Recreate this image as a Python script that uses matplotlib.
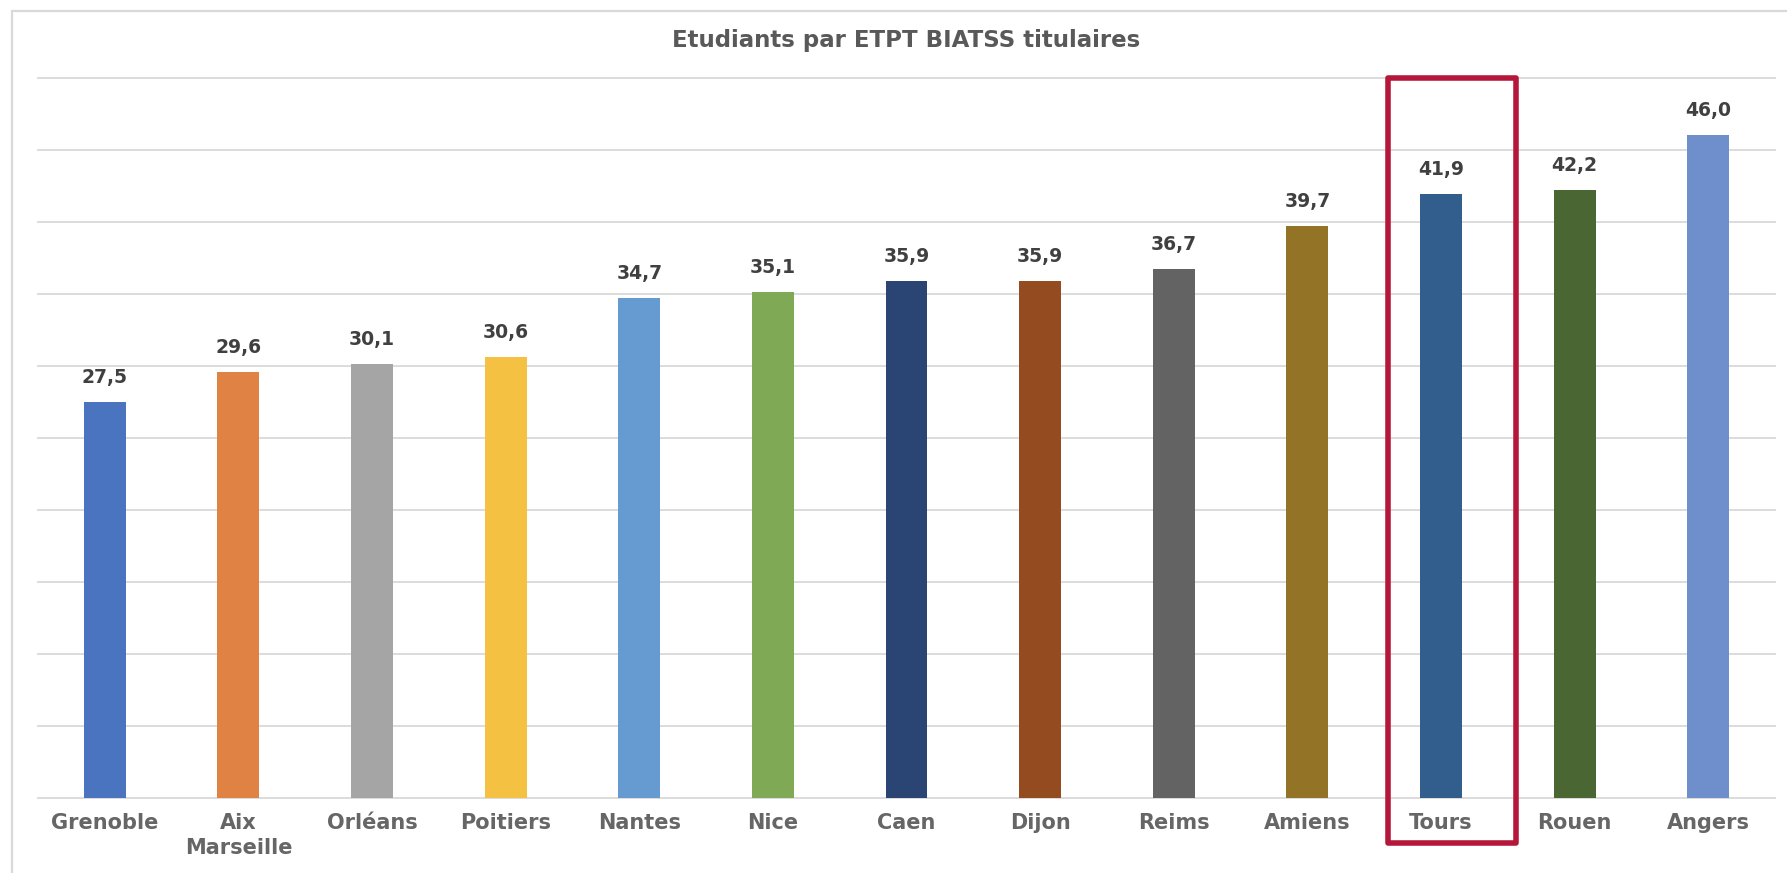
import matplotlib
matplotlib.use("Agg")
import matplotlib.pyplot as plt
from matplotlib.patches import Rectangle

categories = ["Grenoble", "Aix\nMarseille", "Orléans", "Poitiers", "Nantes", "Nice",
              "Caen", "Dijon", "Reims", "Amiens", "Tours", "Rouen", "Angers"]
values = [27.5, 29.6, 30.1, 30.6, 34.7, 35.1, 35.9, 35.9, 36.7, 39.7, 41.9, 42.2, 46.0]
value_labels = ["27,5", "29,6", "30,1", "30,6", "34,7", "35,1", "35,9", "35,9",
                "36,7", "39,7", "41,9", "42,2", "46,0"]
colors = ["#4a74c0", "#e08244", "#a5a5a5", "#f5c142", "#659bd0", "#7fa955",
          "#2a4574", "#954b20", "#636363", "#937326", "#325e8d", "#4a6632", "#6e8fcc"]
title = "Etudiants par ETPT BIATSS titulaires"
highlight = "Tours"

W, H = 1787, 873
fig = plt.figure(figsize=(W / 100, H / 100), dpi=100)
fig.patch.set_facecolor("white")

# outer chart frame
fig.patches.append(Rectangle((11.7 / W, -0.05), 1.1, 1 - 11.5 / H + 0.05,
                             transform=fig.transFigure, fill=False,
                             edgecolor="#d9d9d9", linewidth=1.6, zorder=0))

ax = fig.add_axes([38 / W, 1 - 798 / H, (1775 - 38) / W, (798 - 77.7) / H])
x = range(len(categories))
bars = ax.bar(x, values, width=0.314, color=colors, zorder=3)

ax.set_xlim(-0.5, len(categories) - 0.5)
ax.set_ylim(0, 50)
ax.set_yticks(range(0, 51, 5))
ax.yaxis.grid(True, color="#d9d9d9", linewidth=1.3, zorder=0)
ax.set_axisbelow(True)
for s in ax.spines.values():
    s.set_visible(False)
ax.tick_params(axis="y", length=0, labelleft=False)
ax.tick_params(axis="x", length=0, pad=11)
ax.set_xticks(list(x))
ax.set_xticklabels(categories, fontsize=15, fontweight="bold", color="#666666",
                   va="top", linespacing=1.3)
for gl in ax.get_ygridlines():
    gl.set_clip_on(False)

for rect, lab in zip(bars, value_labels):
    ax.annotate(lab, (rect.get_x() + rect.get_width() / 2, rect.get_height()),
                xytext=(0, 15), textcoords="offset pixels", ha="center", va="bottom",
                fontsize=13.5, fontweight="bold", color="#404040")

fig.text((38 + 1775) / 2 / W, 1 - 40 / H, title, ha="center", va="center",
         fontsize=16.5, fontweight="bold", color="#595959")

# highlight box around Tours
i = categories.index(highlight)
ax.add_patch(Rectangle((i - 0.395, -3.1), 0.96, 53.1, fill=False,
                       edgecolor="#b5173b", linewidth=4, clip_on=False, zorder=5,
                       joinstyle="round"))

fig.savefig("out.png", dpi=100, facecolor="white")
